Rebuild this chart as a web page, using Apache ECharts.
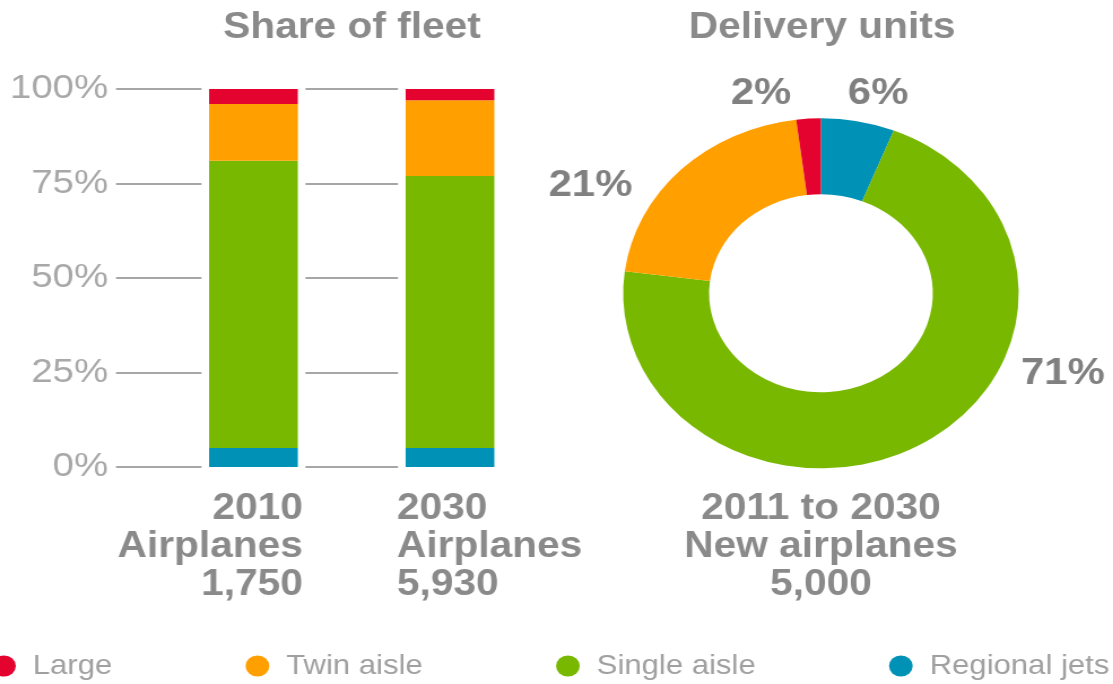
<!DOCTYPE html>
<html>
<head>
<meta charset="utf-8">
<script src="https://cdn.jsdelivr.net/npm/echarts@6/dist/echarts.min.js"></script>
<style>
  html, body { margin: 0; padding: 0; background: #fff; overflow: hidden; }
  #chart { width: 985px; height: 684px; transform: scaleX(1.13); transform-origin: 0 0; }
</style>
</head>
<body>
<div id="chart"></div>
<script>
// ---- data ----
const years = ['2010', '2030'];
const fleetCounts = ['1,750', '5,930'];
const seriesNames = ['Large', 'Twin aisle', 'Single aisle', 'Regional jets'];
const regionalShare = [5, 5];
const singleShare = [76, 72];
const twinShare = [15, 20];
const largeShare = [4, 3];
const deliveryNames = ['Regional jets', 'Single aisle', 'Twin aisle', 'Large'];
const deliveryShare = [6, 71, 21, 2];
const deliveryPeriod = '2011 to 2030';
const deliveryTotal = '5,000';
const yTicks = { min: 0, max: 100, step: 25 };

// ---- style ----
const colors = {
  'Large': '#e4032e',
  'Twin aisle': '#ff9f00',
  'Single aisle': '#78b800',
  'Regional jets': '#0091b6'
};
const FONT = "'Liberation Sans', Arial, Helvetica, sans-serif";
const boldText = '#8a8a8a';
const pieCenter = [726.5, 293.3];
const pieLabelOffsets = [[50.6, -200], [214, 80], [-204, -108], [-53, -200]];

const chart = echarts.init(document.getElementById('chart'));

function barSeries(name, data) {
  return {
    name: name, type: 'bar', stack: 'fleet', xAxisIndex: 1, yAxisIndex: 1,
    barWidth: 78.5, data: data, itemStyle: { color: colors[name] }, z: 3
  };
}

const option = {
  animation: false,
  backgroundColor: '#fff',
  textStyle: { fontFamily: FONT },
  grid: [
    { left: 102.7, width: 334.5, top: 89, height: 378 },
    { left: 137.35, width: 347.8, top: 89, height: 378 }
  ],
  xAxis: [
    { type: 'category', gridIndex: 0, data: years, show: false },
    { type: 'category', gridIndex: 1, data: years, show: false },
    { type: 'category', gridIndex: 1, data: years, show: false }
  ],
  yAxis: [
    {
      type: 'value', gridIndex: 0, min: yTicks.min, max: yTicks.max, interval: yTicks.step,
      axisLine: { show: false }, axisTick: { show: false },
      axisLabel: { formatter: '{value}%', color: '#a8a8a8', fontSize: 34, margin: 7, fontFamily: FONT },
      splitLine: { lineStyle: { color: '#a6a6a6', width: 2 } }
    },
    { type: 'value', gridIndex: 1, min: yTicks.min, max: yTicks.max, show: false, splitLine: { show: false } }
  ],
  legend: {
    data: seriesNames,
    left: -7, top: 652, width: 1200, padding: 0,
    icon: 'circle', itemWidth: 21, itemHeight: 21, itemGap: 118,
    textStyle: { color: '#a0a0a0', fontSize: 27.5, fontFamily: FONT, padding: [0, 0, 0, 10] }
  },
  series: [
    { type: 'bar', stack: 'back', xAxisIndex: 2, yAxisIndex: 1, barWidth: 92, clip: false, silent: true,
      data: years.map(() => 101.5), itemStyle: { color: '#fff' }, z: 1 },
    { type: 'bar', stack: 'back', xAxisIndex: 2, yAxisIndex: 1, barWidth: 92, clip: false, silent: true,
      data: years.map(() => -1.5), itemStyle: { color: '#fff' }, z: 1 },
    barSeries('Regional jets', regionalShare),
    barSeries('Single aisle', singleShare),
    barSeries('Twin aisle', twinShare),
    barSeries('Large', largeShare),
    {
      type: 'pie', center: pieCenter, radius: [99, 175], startAngle: 90, clockwise: true,
      silent: true,
      data: deliveryNames.map((n, i) => ({ name: n, value: deliveryShare[i], itemStyle: { color: colors[n] } })),
      label: { show: true, position: 'outside', formatter: '{c}%', fontSize: 37, fontWeight: 'bold', color: '#808080', fontFamily: FONT },
      labelLine: { show: false },
      labelLayout: function (p) {
        const o = pieLabelOffsets[p.dataIndex];
        return { x: pieCenter[0] + o[0], y: pieCenter[1] + o[1], align: 'center', verticalAlign: 'middle' };
      }
    }
  ],
  graphic: [
    { type: 'text', x: 311.5, y: 28, style: { text: 'Share of fleet', align: 'center', verticalAlign: 'middle', fill: boldText, font: 'bold 36px ' + FONT } },
    { type: 'text', x: 727.5, y: 28, style: { text: 'Delivery units', align: 'center', verticalAlign: 'middle', fill: boldText, font: 'bold 36px ' + FONT } },
    { type: 'text', x: 268.1, y: 547, style: { text: years[0] + '\nAirplanes\n' + fleetCounts[0], align: 'right', verticalAlign: 'middle', lineHeight: 38, fill: boldText, font: 'bold 36px ' + FONT } },
    { type: 'text', x: 351.3, y: 547, style: { text: years[1] + '\nAirplanes\n' + fleetCounts[1], align: 'left', verticalAlign: 'middle', lineHeight: 38, fill: boldText, font: 'bold 36px ' + FONT } },
    { type: 'text', x: 726.5, y: 547, style: { text: deliveryPeriod + '\nNew airplanes\n' + deliveryTotal, align: 'center', verticalAlign: 'middle', lineHeight: 38, fill: boldText, font: 'bold 36px ' + FONT } }
  ]
};
chart.setOption(option);
</script>
</body>
</html>
